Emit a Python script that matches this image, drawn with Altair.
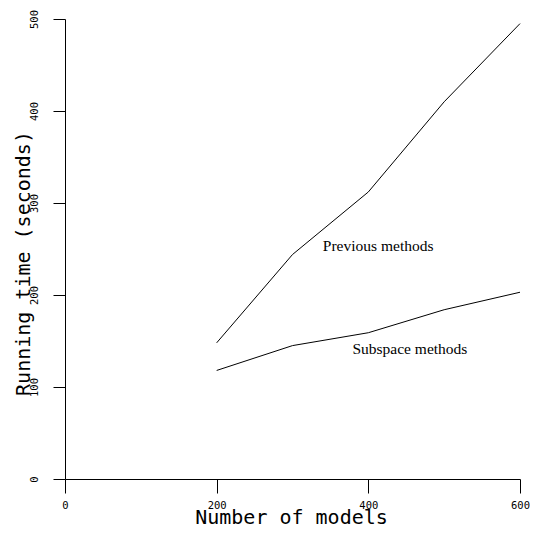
import altair as alt
import pandas as pd

models = [200, 300, 400, 500, 600]
previous = [148, 244, 312, 410, 495]
subspace = [118, 145, 159, 184, 203]

label_text = ["Previous methods", "Subspace methods"]
label_x = [340, 379]
label_y = [248, 136]

rows = []
for m, p in zip(models, previous):
    rows.append({"models": m, "time": p, "series": "Previous methods"})
for m, s in zip(models, subspace):
    rows.append({"models": m, "time": s, "series": "Subspace methods"})
df = pd.DataFrame(rows)
lab = pd.DataFrame({"text": label_text, "x": label_x, "y": label_y})

xscale = alt.Scale(domain=[0, 600], nice=False, zero=False)
yscale = alt.Scale(domain=[0, 500], nice=False, zero=False)

axis_font = "DejaVu Sans Mono"

xaxis = alt.Axis(
    values=[0, 200, 400, 600], title="Number of models", grid=False,
    tickSize=14, labelPadding=7, labelFlush=False, labelOverlap=False,
    labelFont=axis_font, labelFontSize=10.5, labelColor="black",
    titleFont=axis_font, titleFontSize=20, titleFontWeight="normal",
    titleColor="black", titleY=44, titleBaseline="alphabetic", titleX=226,
    domainColor="black", tickColor="black",
)
yaxis = alt.Axis(
    values=[0, 100, 200, 300, 400, 500], title="Running time (seconds)", grid=False,
    tickSize=12, labelPadding=14, labelAngle=-90, labelAlign="center",
    labelBaseline="bottom", labelFlush=False, labelOverlap=False,
    labelFont=axis_font, labelFontSize=10.5, labelColor="black",
    titleFont=axis_font, titleFontSize=20, titleFontWeight="normal",
    titleColor="black", titleX=-36, titleY=244, titleBaseline="alphabetic",
    domainColor="black", tickColor="black",
)

lines = alt.Chart(df).mark_line(color="black", strokeWidth=1).encode(
    x=alt.X("models:Q", scale=xscale, axis=xaxis),
    y=alt.Y("time:Q", scale=yscale, axis=yaxis),
    detail="series:N",
)

texts = alt.Chart(lab).mark_text(
    font="Liberation Serif", fontSize=15.5, align="left", baseline="alphabetic", color="black"
).encode(
    x=alt.X("x:Q", scale=xscale),
    y=alt.Y("y:Q", scale=yscale),
    text="text:N",
)

chart = alt.layer(lines, texts).properties(
    width=455, height=460,
    autosize=alt.AutoSizeParams(type="none"),
    padding={"left": 57, "top": 11, "right": 11, "bottom": 49},
).configure_view(stroke=None)

chart.save("out.html", embed_options={"renderer": "svg", "actions": False})
